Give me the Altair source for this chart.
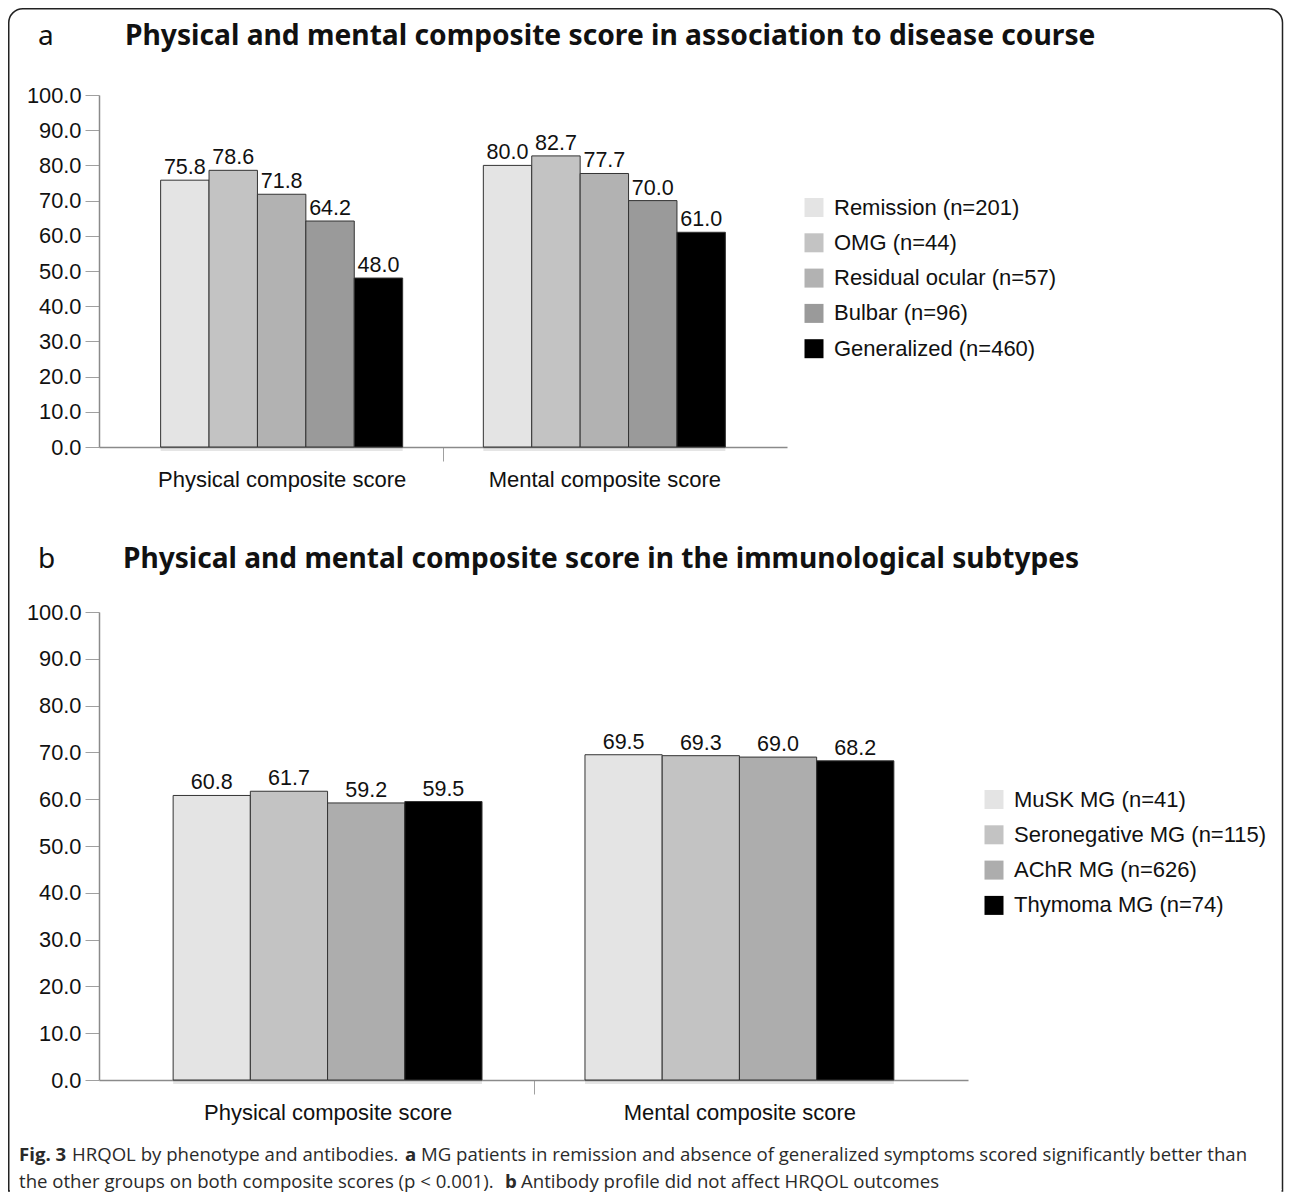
import altair as alt
import pandas as pd

# ---------------- data ----------------
measures = ["Physical composite score", "Mental composite score"]

groups_a = ["Remission (n=201)", "OMG (n=44)", "Residual ocular (n=57)",
            "Bulbar (n=96)", "Generalized (n=460)"]
physical_a = [75.8, 78.6, 71.8, 64.2, 48.0]
mental_a = [80.0, 82.7, 77.7, 70.0, 61.0]
colors_a = ["#e4e4e4", "#c3c3c3", "#b2b2b2", "#9a9a9a", "#000000"]

groups_b = ["MuSK MG (n=41)", "Seronegative MG (n=115)", "AChR MG (n=626)",
            "Thymoma MG (n=74)"]
physical_b = [60.8, 61.7, 59.2, 59.5]
mental_b = [69.5, 69.3, 69.0, 68.2]
colors_b = ["#e4e4e4", "#c3c3c3", "#adadad", "#000000"]

y_ticks = [0, 10, 20, 30, 40, 50, 60, 70, 80, 90, 100]

letter_a = "a"
letter_b = "b"
title_a = "Physical and mental composite score in association to disease course"
title_b = "Physical and mental composite score in the immunological subtypes"

cap_fig = "Fig. 3"
cap_1a = "HRQOL by phenotype and antibodies."
cap_1b = "MG patients in remission and absence of generalized symptoms scored significantly better than"
cap_2a = "the other groups on both composite scores (p < 0.001)."
cap_2b = "Antibody profile did not affect HRQOL outcomes"

FONT = "Liberation Sans"
TFONT = "Noto Sans"
CFONT = "Open Sans"
CSIZE = 18.6
CCOLOR = "#2a2a2a"


def make_df(groups, phys, ment):
    rows = []
    for g, p, m in zip(groups, phys, ment):
        rows.append({"measure": measures[0], "group": g, "value": p})
        rows.append({"measure": measures[1], "group": g, "value": m})
    return pd.DataFrame(rows)


def text_layer(txt, x, y, font=FONT, size=21, weight="normal", color="#111111"):
    return alt.Chart(pd.DataFrame({"t": [txt]})).mark_text(
        align="left", baseline="middle", font=font, fontSize=size,
        fontWeight=weight, color=color, limit=0
    ).encode(x=alt.value(x), y=alt.value(y), text="t:N")


def panel(df, groups, colors, pad_outer, tick_off, lx, ly):
    base = alt.Chart(df)
    x = alt.X(
        "measure:N", sort=measures,
        scale=alt.Scale(paddingInner=0.25, paddingOuter=pad_outer),
        axis=alt.Axis(
            title=None, labelAngle=0, labelFont=FONT, labelFontSize=22,
            labelColor="#111111", labelLimit=0, domainColor="#8a8a8a",
            domainWidth=1.5, tickSize=14, bandPosition=1, tickOffset=tick_off,
            labelOffset=-tick_off, labelPadding=8,
            tickColor={"condition": {"test": f"datum.value === '{measures[0]}'",
                                     "value": "#a0a0a0"},
                       "value": "transparent"},
        ),
    )
    xo = alt.XOffset("group:N", sort=groups,
                     scale=alt.Scale(paddingInner=0, paddingOuter=0))
    y = alt.Y(
        "value:Q", scale=alt.Scale(domain=[0, 100], nice=False),
        axis=alt.Axis(title=None, values=y_ticks, format=".1f", grid=False,
                      labelFont=FONT, labelFontSize=21.8, labelColor="#111111",
                      domainColor="#8a8a8a", domainWidth=1.5,
                      tickColor="#a0a0a0", tickSize=14, labelPadding=4),
    )
    color = alt.Color(
        "group:N", sort=groups,
        scale=alt.Scale(domain=groups, range=colors),
        legend=alt.Legend(
            title=None, orient="none", legendX=lx, legendY=ly,
            symbolType="square", symbolSize=361, symbolStrokeWidth=0,
            symbolOpacity=1, labelFont=FONT, labelFontSize=22,
            labelColor="#111111", labelLimit=0, rowPadding=13.3,
            labelOffset=9, padding=0,
        ),
    )
    shadow = base.mark_bar(color="#000000", opacity=0.10, xOffset=4,
                           yOffset=4).encode(x=x, xOffset=xo, y=y)
    bars = base.mark_bar(stroke="#333333", strokeWidth=1).encode(
        x=x, xOffset=xo, y=y, color=color)
    labels = base.mark_text(baseline="bottom", dy=-1, font=FONT, fontSize=21.5,
                            color="#111111").encode(
        x=x, xOffset=xo, y=y, text=alt.Text("value:Q", format=".1f"))
    return shadow, bars, labels


df_a = make_df(groups_a, physical_a, mental_a)
df_b = make_df(groups_b, physical_b, mental_b)

shadow_a, bars_a, labels_a = panel(df_a, groups_a, colors_a, 0.191, 40.3, 704, 101.5)
shadow_b, bars_b, labels_b = panel(df_b, groups_b, colors_b, 0.18, 51.5, 884, 176.5)

frame = alt.Chart(pd.DataFrame({"t": [0]})).mark_rect(
    fill="transparent", stroke="#222222", strokeWidth=1.5,
    cornerRadiusTopLeft=14, cornerRadiusTopRight=14,
).encode(x=alt.value(-90.25), x2=alt.value(1183.5),
         y=alt.value(-86.25), y2=alt.value(1096))
frame_cut = alt.Chart(pd.DataFrame({"t": [0]})).mark_rect(
    fill="white", stroke=None
).encode(x=alt.value(-89), x2=alt.value(1182.5),
         y=alt.value(1094), y2=alt.value(1099))

panel_a = alt.layer(
    frame, frame_cut, shadow_a, bars_a, labels_a,
    text_layer(letter_a, -61, -58, font=TFONT, size=28),
    text_layer(title_a, 26, -58, font=TFONT, size=28.2, weight="bold"),
).properties(width=688, height=352)

panel_b = alt.layer(
    shadow_b, bars_b, labels_b,
    text_layer(letter_b, -61, -52, font=TFONT, size=28),
    text_layer(title_b, 24, -52, font=TFONT, size=28.1, weight="bold"),
    text_layer(cap_fig, -80, 543, font=CFONT, size=CSIZE, weight="bold", color=CCOLOR),
    text_layer(cap_1a, -27, 543, font=CFONT, size=CSIZE, color=CCOLOR),
    text_layer("a", 306, 543, font=CFONT, size=CSIZE, weight="bold", color=CCOLOR),
    text_layer(cap_1b, 322, 543, font=CFONT, size=CSIZE, color=CCOLOR),
    text_layer(cap_2a, -80, 570, font=CFONT, size=CSIZE, color=CCOLOR),
    text_layer("b", 406, 570, font=CFONT, size=CSIZE, weight="bold", color=CCOLOR),
    text_layer(cap_2b, 422, 570, font=CFONT, size=CSIZE, color=CCOLOR),
).properties(width=869, height=468)

chart = alt.vconcat(panel_a, panel_b, spacing=165, bounds="flush").resolve_scale(
    color="independent", x="independent", y="independent", xOffset="independent"
).properties(
    padding={"left": 0, "top": 0, "right": 0, "bottom": 0}
).configure_view(stroke=None)

chart.save("out.html", embed_options={"renderer": "svg", "actions": False})
